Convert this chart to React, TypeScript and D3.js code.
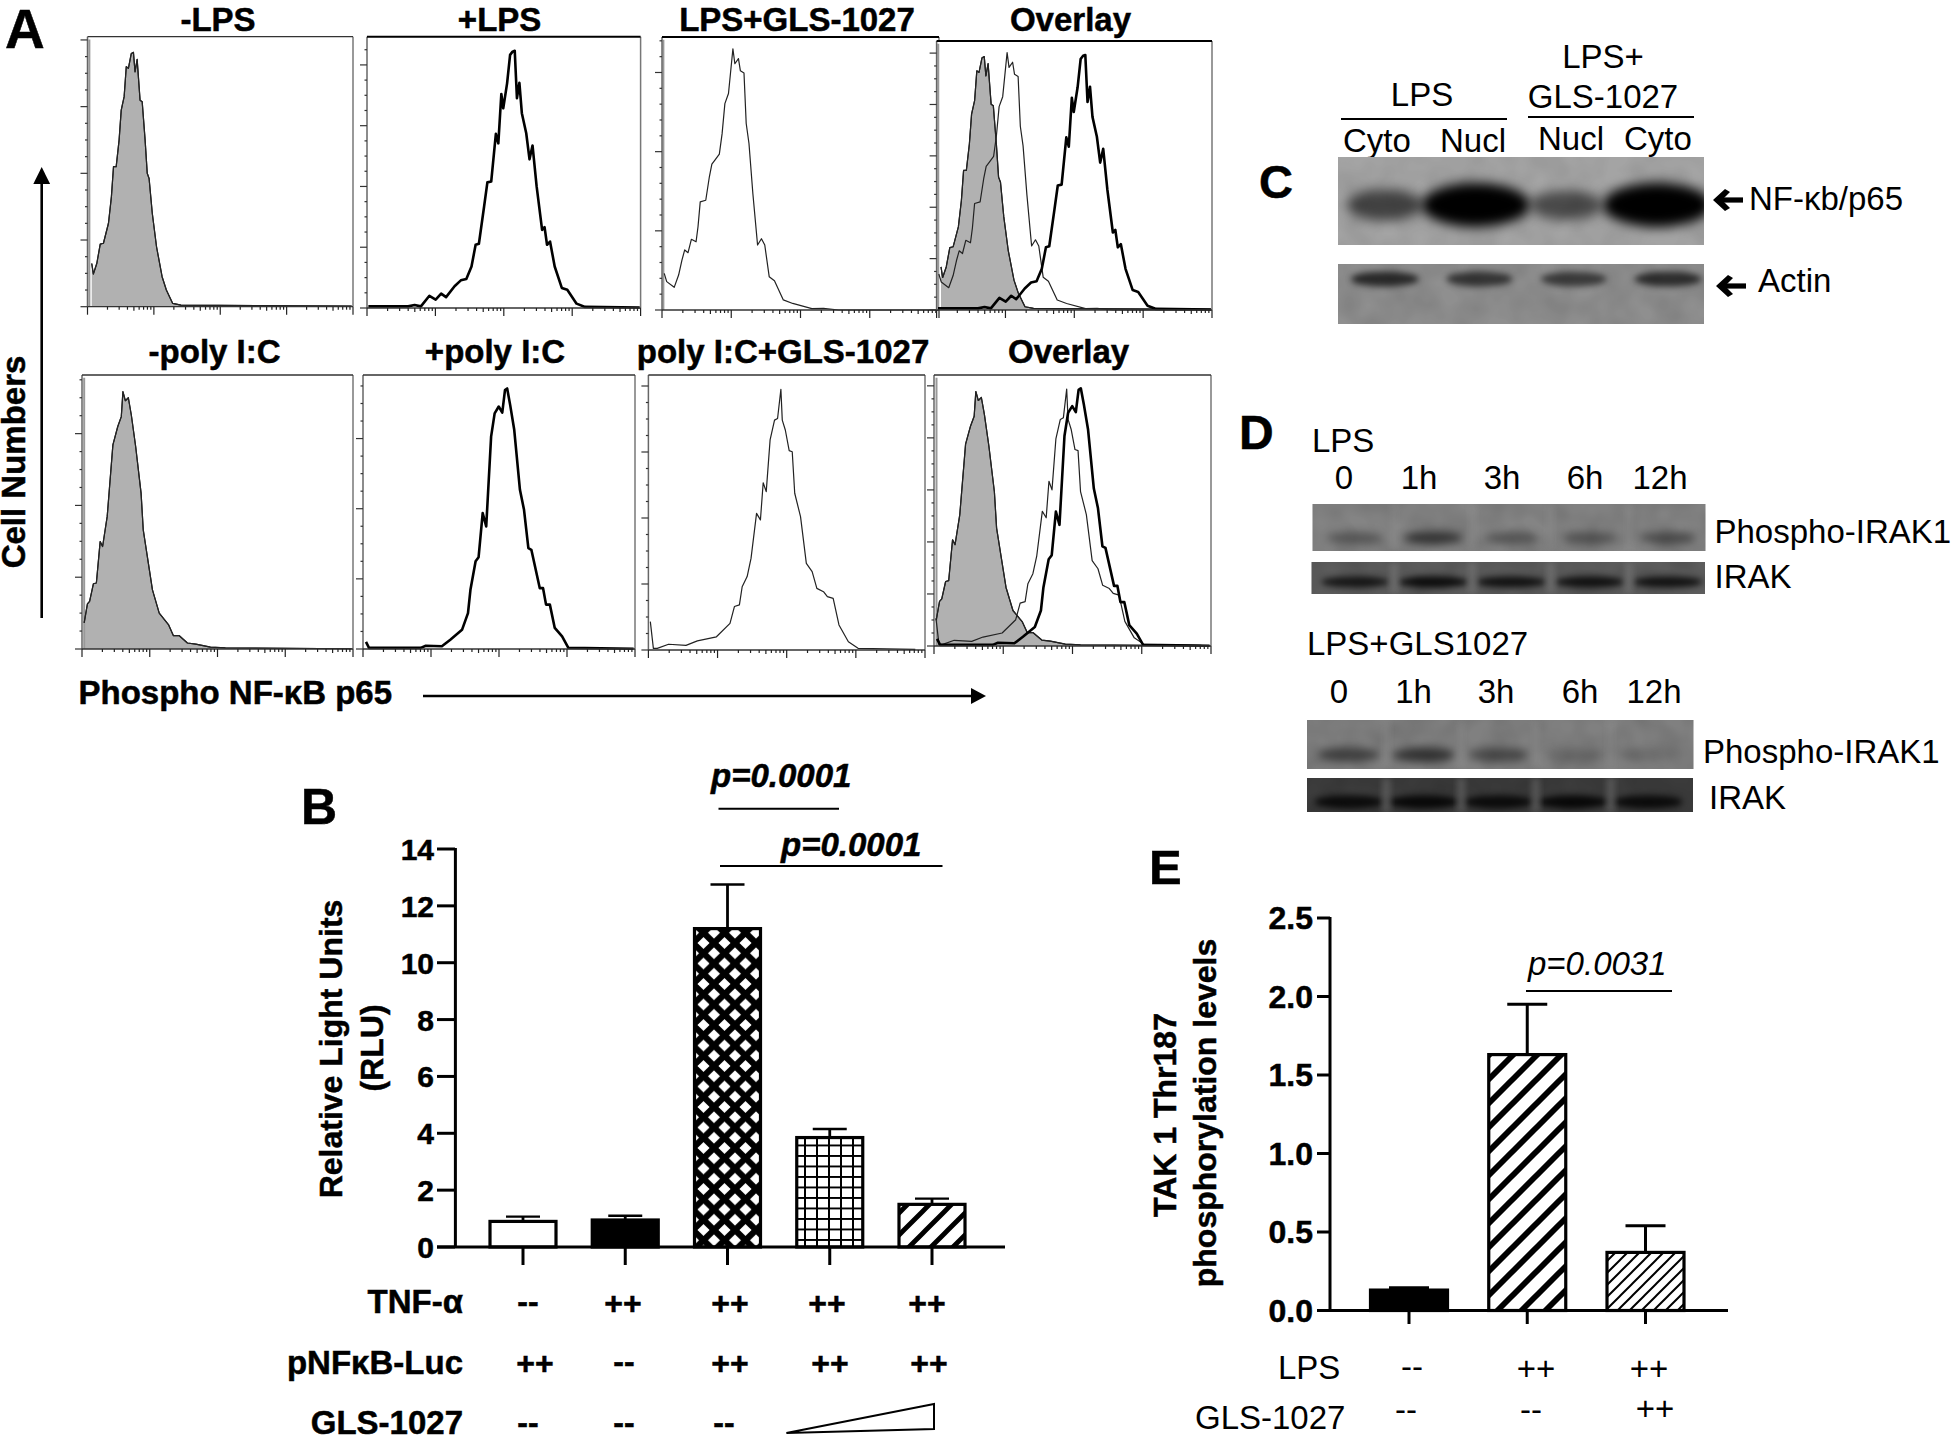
import React from "react";
import * as d3 from "d3";

type Pt = [number, number];

// ---------- flow cytometry histograms: [fluorescence % of axis, % of max count] ----------
const lpsControl: Pt[] = [[1.6,16],[2.2,12.1],[3.5,16],[4.8,23.2],[6,23.5],[7.9,30.9],[9,40.7],[9.8,51.9],[10.8,51.9],[11.9,61.7],[12.7,72.8],[13.8,77.8],[14.6,88.9],[15.4,88.3],[16.5,93.8],[17.3,94.2],[17.9,87],[18.7,91.6],[19.8,76.5],[20.6,75.9],[21.7,61.7],[22.5,49.4],[23.2,47.5],[24.4,34.6],[26,22.2],[28.1,11.1],[29.7,6.2],[32.1,1.2],[35.2,0.6],[99.5,0.2]];
const lpsStim: Pt[] = [[0.5,0.6],[15,0.6],[17.4,1.1],[19.7,0.6],[22.8,4.5],[25.1,3.1],[27.1,5.3],[28.9,4],[32,8],[34.3,10.2],[36.3,10.7],[38.2,15.3],[39.7,23.3],[40.9,23.7],[42.8,37.4],[44,46.3],[45.4,46.6],[47.1,64.2],[48,60.7],[49.1,78.9],[49.8,73.6],[51.2,82.8],[52.3,93.3],[53.2,94.5],[54,94.8],[54.8,77.3],[55.7,83],[56.6,71.8],[58.2,64.4],[59.4,54.8],[60.5,59.9],[62,44.8],[64,28.8],[64.9,29.8],[65.8,23.3],[66.9,24.5],[68.6,15.3],[71.2,7.4],[73.2,6.7],[76.6,1.6],[79.7,0.4],[99.7,0.2]];
const lpsDrug: Pt[] = [[0.8,13.4],[1.7,10.4],[4.4,8.3],[6,12.8],[7.2,18.3],[8.2,22],[9.4,21],[10.6,25.9],[12.3,25],[13,30.5],[13.8,39.6],[15.8,40.2],[17.1,48.8],[18,53.4],[19.1,54.9],[20.7,57.1],[21.7,64.6],[22.7,75.6],[24,79.3],[25.6,95.7],[26.3,90.2],[27.6,92.1],[28.3,87.6],[29.6,86.8],[30.4,68.3],[31.4,61],[32.8,42.7],[34.5,23.8],[35.9,26.1],[37.1,23.8],[38.7,12.2],[40.6,10.7],[43.8,3.7],[47.2,2.4],[54.1,0.5],[58.3,0.6],[63.8,0],[99.7,0]];
const polyControl: Pt[] = [[0.8,9.5],[2,16.5],[2.8,17.4],[4.2,23.8],[5.3,24.1],[6.7,39.2],[7.6,37.4],[9.3,48.4],[11.4,74.5],[13.2,81.2],[14.5,84.8],[15.1,93.9],[16,90.6],[17.1,91.7],[18.2,85.4],[19.8,73.9],[21.8,56.9],[22.6,43.5],[24.1,33.8],[26,21.6],[28.5,13.1],[31.9,8.9],[33.7,4.9],[35.8,4.9],[38.9,2.2],[42,1.8],[47.4,0.7],[52.9,0.4],[99.5,0.1]];
const polyStim: Pt[] = [[1.1,2.6],[2.2,0.4],[11.9,0.4],[21.2,0.4],[23.1,1.2],[29,1],[32.1,3.4],[36.4,7],[38.6,13.1],[39.5,21.6],[41.4,32],[42.5,33.5],[44,49.6],[45.3,44.7],[47.1,77.5],[48.4,86],[49.9,88.5],[51.2,86.3],[52.2,94.5],[53,95.1],[54.1,89.1],[55.6,80],[57.7,58.1],[59.2,50.8],[60.8,36.8],[61.9,36.2],[65,22.2],[66.2,22.2],[67.3,16.2],[68.7,16.2],[70.5,7.7],[73.2,4.6],[75.5,0.4],[99.5,0.1]];
const polyDrug: Pt[] = [[0.7,10.3],[1.8,0.6],[3.2,0.6],[7.3,2.1],[13.6,1.7],[17.7,3.3],[24.6,4.8],[29.5,9.7],[31.1,15.8],[32.9,16.4],[33.9,23],[35.7,26.7],[37.1,33.3],[39.1,49.7],[40.5,47.3],[41.5,60.8],[42.6,57.6],[44,76.4],[45.6,83.6],[46.7,84.2],[47.9,94.8],[48.4,83.6],[49.5,80],[50.9,72.5],[52,72.1],[52.9,57],[55,48.5],[57.1,31.5],[59.2,28.5],[60.9,22.4],[63.3,21.2],[64.7,19.4],[66.8,18.8],[68.9,9.1],[72.3,3],[75.8,0.6],[96.5,0.2]];

const histTitles = ["-LPS","+LPS","LPS+GLS-1027","Overlay","-poly I:C","+poly I:C","poly I:C+GLS-1027","Overlay"];
const logTicks = [1, 10000];

// ---------- panel B ----------
const rluCategories = ["ctrl","tnf","both","low","high"];
const rluValues = [0.9, 0.95, 11.2, 3.85, 1.5];
const rluErrorTops = [1.07, 1.1, 12.75, 4.15, 1.7];
const rluTicks = [0,2,4,6,8,10,12,14];
const rowTnf = ["--","++","++","++","++"];
const rowLuc = ["++","--","++","++","++"];
const rowGls = ["--","--","--"];

// ---------- panel E ----------
const takCategories = ["ctrl","lps","drug"];
const takValues = [0.13, 1.63, 0.37];
const takErrorTops = [0.145, 1.95, 0.54];
const takTicks = [0, 0.5, 1.0, 1.5, 2.0, 2.5];
const rowLps = ["--","++","++"];
const rowGlsE = ["--","--","++"];

// ---------- blots: relative band density per lane ----------
const p65Lanes = ["Cyto","Nucl","Nucl2","Cyto2"];
const p65Density = [0.6, 1, 0.55, 1];
const actinDensity = [0.7, 0.62, 0.58, 0.68];
const timeLabels = ["0","1h","3h","6h","12h"];
const pIrakLps = [0.35, 0.6, 0.35, 0.38, 0.42];
const irakLps = [0.75, 0.85, 0.8, 0.8, 0.8];
const pIrakGls = [0.5, 0.6, 0.42, 0.15, 0.15];
const irakGls = [0.8, 0.85, 0.8, 0.85, 0.8];

const FONT = "'Liberation Sans', Arial, sans-serif";

const T = ({ x, y, s = 33, b = false, i = false, a = "start", rot, children }: any) => (
  <text
    x={rot ? 0 : x}
    y={rot ? 0 : y}
    transform={rot ? `translate(${x},${y}) rotate(${rot})` : undefined}
    fontFamily={FONT}
    fontSize={s}
    fontWeight={b ? 700 : 400}
    fontStyle={i ? "italic" : "normal"}
    textAnchor={a}
    fill="#000"
    stroke={b ? "#000" : "none"}
    strokeWidth={b ? 0.5 : 0}
  >
    {children}
  </text>
);

type Curve = { data: Pt[]; kind: "fill" | "thick" | "thin" };

const Hist = ({ x0, x1, top, base, title, tx, ty, curves, yStep, minors, spike, darkTop }: any) => {
  const x = d3.scaleLinear().domain([0, 100]).range([x0, x1]);
  const y = d3.scaleLinear().domain([0, 100]).range([base, top]);
  const line = d3.line<Pt>().x((d) => x(d[0])).y((d) => y(d[1]));
  const area = d3.area<Pt>().x((d) => x(d[0])).y0(base).y1((d) => y(d[1]));
  const log = d3.scaleLog().domain(logTicks).range([x0, x1]);
  const logVals = log.ticks();
  const yVals = d3.range(0, Math.floor(100 / (yStep / (minors + 1))) + 1).map((k) => k * (yStep / (minors + 1)));
  return (
    <g>
      <rect x={x0} y={top} width={x1 - x0} height={base - top} fill="#fff" />
      {curves.map((c: Curve, i: number) =>
        c.kind === "fill" ? (
          <path key={i} d={area(c.data) as string} fill="#b1b1b1" stroke="none" />
        ) : null
      )}
      {spike && <line x1={x(spike)} x2={x(spike)} y1={y(99)} y2={base} stroke="#999" strokeWidth={2} />}
      {curves.map((c: Curve, i: number) => (
        <path
          key={"l" + i}
          d={line(c.data) as string}
          fill="none"
          stroke={c.kind === "thick" ? "#000" : "#222"}
          strokeWidth={c.kind === "thick" ? 2.6 : 1.2}
          strokeLinejoin="round"
        />
      ))}
      <line x1={x0} x2={x0} y1={top} y2={base} stroke="#666" strokeWidth={1.5} />
      <line x1={x1} x2={x1} y1={top} y2={base} stroke="#777" strokeWidth={1.5} />
      <line x1={x0} x2={x1} y1={top} y2={top} stroke={darkTop ? "#000" : "#333"} strokeWidth={darkTop ? 2 : 1.3} />
      <line x1={x0} x2={x1} y1={base} y2={base} stroke="#333" strokeWidth={1.3} />
      {logVals.map((v: number) => {
        const lg = Math.log10(v);
        const major = Math.abs(lg - Math.round(lg)) < 1e-6;
        const fifth = String(v)[0] === "5";
        return <line key={v} x1={log(v)} x2={log(v)} y1={base} y2={base + (major ? 8 : fifth ? 4 : 3)} stroke="#222" strokeWidth={1.2} />;
      })}
      {yVals.map((v: number, k: number) => {
        const major = k % (minors + 1) === 0;
        return <line key={k} x1={x0 - (major ? 7 : 2.5)} x2={x0} y1={y(v)} y2={y(v)} stroke="#333" strokeWidth={1.2} />;
      })}
      <T x={tx} y={ty} s={33} b a="middle">{title}</T>
    </g>
  );
};

const Blot = ({ id, x0, x1, top, bottom, bg, lanes, density, laneFrom, laneTo, bandY, halfW, halfH, blur, gaps, rMin = 0.8, mottle = 0.12 }: any) => {
  const lane = d3.scalePoint<string>().domain(lanes).range([laneFrom, laneTo]);
  const shape = d3.scaleLinear().domain([0, 1]).range([rMin, 1]);
  const gapScale = lane.step();
  return (
    <g>
      <clipPath id={id}><rect x={x0} y={top} width={x1 - x0} height={bottom - top} /></clipPath>
      <rect x={x0} y={top} width={x1 - x0} height={bottom - top} fill={bg} />
      <g clipPath={`url(#${id})`}>
        <rect x={x0} y={top} width={x1 - x0} height={bottom - top} fill="#000" filter="url(#mottle)" opacity={mottle} />
        {lanes.map((l: string, i: number) => (
          <ellipse key={l} cx={lane(l)} cy={bandY} rx={halfW * shape(density[i])} ry={halfH * shape(density[i])} fill="#000" opacity={density[i]} filter={`url(#${blur})`} />
        ))}
        {gaps && lanes.slice(1).map((l: string) => (
          <rect key={l} x={(lane(l) as number) - gapScale / 2 - 4} y={top} width={8} height={bottom - top} fill="#8f8f8f" opacity={0.35} filter="url(#blur3)" />
        ))}
      </g>
    </g>
  );
};

const LeftArrow = ({ x, y }: any) => (
  <g fill="#000">
    <rect x={x + 8} y={y - 2.6} width={22} height={5.2} />
    <path d={`M${x} ${y} L${x + 12} ${y - 11} L${x + 17} ${y - 8} L${x + 9} ${y} L${x + 17} ${y + 8} L${x + 12} ${y + 11} Z`} />
  </g>
);

const diag = (p: number) => `M0 ${p} L${p} 0 M${-p / 2} ${p / 2} L${p / 2} ${-p / 2} M${p / 2} ${(3 * p) / 2} L${(3 * p) / 2} ${p / 2}`;

export default function App() {
  // panel B scales
  const yB = d3.scaleLinear().domain([0, 14]).range([1247, 849]);
  const xB = d3.scalePoint<string>().domain(rluCategories).range([523, 932]);
  const fillsB = ["#fff", "#000", "url(#cross)", "url(#grid)", "url(#stripeB)"];
  const wB = 66;
  // panel E scales
  const yE = d3.scaleLinear().domain([0, 2.5]).range([1310.5, 918]);
  const xE = d3.scalePoint<string>().domain(takCategories).range([1409, 1645.5]);
  const fillsE = ["#000", "url(#stripeE)", "url(#stripeF)"];
  const wE = 77;

  const F = (d: Pt[]): Curve => ({ data: d, kind: "fill" });
  const K = (d: Pt[]): Curve => ({ data: d, kind: "thick" });
  const N = (d: Pt[]): Curve => ({ data: d, kind: "thin" });

  const rowsB: [string[], number[], number][] = [
    [rowTnf, [528, 623, 730, 827, 927], 1303],
    [rowLuc, [535, 624, 730, 830, 929], 1363],
    [rowGls, [528, 624, 724], 1424],
  ];

  return (
    <svg width={1951} height={1436} style={{ position: "absolute", left: 0, top: 0, display: "block", background: "#fff" }}>
      <defs>
        <pattern id="cross" patternUnits="userSpaceOnUse" width={21} height={20.5}>
          <rect width={21} height={20.5} fill="#fff" />
          <path d="M0 0L21 20.5M21 0L0 20.5" stroke="#000" strokeWidth={6.2} />
        </pattern>
        <pattern id="grid" patternUnits="userSpaceOnUse" width={12} height={10.5}>
          <rect width={12} height={10.5} fill="#fff" />
          <path d="M1 0V10.5M0 1H12" stroke="#000" strokeWidth={2} />
        </pattern>
        <pattern id="stripeB" patternUnits="userSpaceOnUse" width={22} height={22}>
          <rect width={22} height={22} fill="#fff" />
          <path d={diag(22)} stroke="#000" strokeWidth={4.8} />
        </pattern>
        <pattern id="stripeE" patternUnits="userSpaceOnUse" width={24} height={24}>
          <rect width={24} height={24} fill="#fff" />
          <path d={diag(24)} stroke="#000" strokeWidth={5.8} />
        </pattern>
        <pattern id="stripeF" patternUnits="userSpaceOnUse" width={12} height={12}>
          <rect width={12} height={12} fill="#fff" />
          <path d={diag(12)} stroke="#000" strokeWidth={2} />
        </pattern>
        <filter id="blur3" x="-50%" y="-100%" width="200%" height="300%"><feGaussianBlur stdDeviation={3} /></filter>
        <filter id="blur4" x="-50%" y="-150%" width="200%" height="400%"><feGaussianBlur stdDeviation={4} /></filter>
        <filter id="blur6" x="-50%" y="-80%" width="200%" height="260%"><feGaussianBlur stdDeviation={6} /></filter>
        <filter id="mottle" x="0" y="0" width="100%" height="100%">
          <feTurbulence type="fractalNoise" baseFrequency="0.035" numOctaves={2} seed={7} />
          <feColorMatrix values="0 0 0 0 0  0 0 0 0 0  0 0 0 0 0  1.6 0 0 0 -0.45" />
        </filter>
      </defs>

      {/* Panel A */}
      <T x={5} y={48} s={55} b>A</T>
      <Hist x0={87.5} x1={353} top={36.7} base={306.7} title={histTitles[0]} tx={218} ty={31} curves={[F(lpsControl), N(lpsControl)]} yStep={24.7} minors={3} spike={0.7} darkTop={false} />
      <Hist x0={367} x1={640.6} top={36.7} base={308} title={histTitles[1]} tx={499.6} ty={31} curves={[K(lpsStim)]} yStep={22.4} minors={3} darkTop />
      <Hist x0={662} x1={939} top={37} base={310} title={histTitles[2]} tx={797} ty={31} curves={[N(lpsDrug)]} yStep={29} minors={4} spike={0.5} darkTop />
      <Hist x0={936.6} x1={1212} top={41} base={310} title={histTitles[3]} tx={1070.5} ty={31} curves={[F(lpsControl), N(lpsControl), N(lpsDrug), K(lpsStim)]} yStep={19.1} minors={3} spike={0.6} darkTop />
      <Hist x0={82} x1={353} top={375} base={649} title={histTitles[4]} tx={214.6} ty={363} curves={[F(polyControl), N(polyControl)]} yStep={26.2} minors={3} spike={0.8} />
      <Hist x0={363} x1={635} top={375} base={649} title={histTitles[5]} tx={495} ty={363} curves={[K(polyStim)]} yStep={25.6} minors={3} />
      <Hist x0={648.4} x1={925} top={375} base={650} title={histTitles[6]} tx={783} ty={363} curves={[N(polyDrug)]} yStep={24} minors={3} />
      <Hist x0={934} x1={1211} top={375} base={646} title={histTitles[7]} tx={1068.6} ty={363} curves={[F(polyControl), N(polyControl), N(polyDrug), K(polyStim)]} yStep={19.2} minors={3} spike={0.9} />

      <T x={25} y={462} s={33} b a="middle" rot={-90}>Cell Numbers</T>
      <line x1={41.7} x2={41.7} y1={180} y2={618} stroke="#000" strokeWidth={2.6} />
      <path d="M41.7 167L33.3 184H50.1Z" fill="#000" />
      <T x={78.5} y={704} s={33} b>Phospho NF-κB p65</T>
      <line x1={423} x2={975} y1={696} y2={696} stroke="#000" strokeWidth={2.6} />
      <path d="M986 696L971 688V704Z" fill="#000" />

      {/* Panel B */}
      <T x={301} y={824} s={50} b>B</T>
      <T x={711} y={787} s={33} b i>p=0.0001</T>
      <line x1={718.5} x2={839} y1={808.7} y2={808.7} stroke="#000" strokeWidth={2} />
      <T x={781} y={856} s={33} b i>p=0.0001</T>
      <line x1={720} x2={942.5} y1={866} y2={866} stroke="#000" strokeWidth={2} />
      {rluCategories.map((c, i) => {
        const cx = xB(c) as number;
        return (
          <g key={c}>
            <line x1={cx} x2={cx} y1={yB(rluValues[i])} y2={yB(rluErrorTops[i])} stroke="#000" strokeWidth={2.8} />
            <line x1={cx - 17} x2={cx + 17} y1={yB(rluErrorTops[i])} y2={yB(rluErrorTops[i])} stroke="#000" strokeWidth={2.4} />
            <rect x={cx - wB / 2} y={yB(rluValues[i])} width={wB} height={yB(0) - yB(rluValues[i])} fill={fillsB[i]} stroke="#000" strokeWidth={3.2} />
            <line x1={cx} x2={cx} y1={yB(0)} y2={1265} stroke="#000" strokeWidth={3} />
          </g>
        );
      })}
      <line x1={455.4} x2={455.4} y1={yB(14) - 1} y2={yB(0)} stroke="#000" strokeWidth={3} />
      <line x1={437} x2={1005} y1={yB(0)} y2={yB(0)} stroke="#000" strokeWidth={3} />
      {rluTicks.map((t) => (
        <g key={t}>
          <line x1={437} x2={455} y1={yB(t)} y2={yB(t)} stroke="#000" strokeWidth={3} />
          <T x={434} y={yB(t) + 11} s={30} b a="end">{t}</T>
        </g>
      ))}
      <T x={342} y={1049} s={32} b a="middle" rot={-90}>Relative Light Units</T>
      <T x={383} y={1048} s={32} b a="middle" rot={-90}>(RLU)</T>
      <T x={463} y={1313} s={33} b a="end">TNF-α</T>
      <T x={463} y={1374} s={33} b a="end">pNFκB-Luc</T>
      <T x={463} y={1434} s={33} b a="end">GLS-1027</T>
      {rowsB.map(([labels, xs, cy], r) =>
        labels.map((l, i) => (
          <T key={`${r}-${i}`} x={xs[i]} y={cy + (l === "++" ? 10.5 : 8.5)} s={32} b a="middle">{l}</T>
        ))
      )}
      <path d="M786.4 1433L934 1404V1429Z" fill="#fff" stroke="#000" strokeWidth={2} />

      {/* Panel C */}
      <T x={1259} y={198} s={47} b>C</T>
      <T x={1422} y={106} a="middle">LPS</T>
      <T x={1603} y={68} a="middle">LPS+</T>
      <T x={1603} y={108} a="middle">GLS-1027</T>
      <line x1={1341} x2={1507} y1={119} y2={119} stroke="#000" strokeWidth={2} />
      <line x1={1528} x2={1694} y1={117} y2={117} stroke="#000" strokeWidth={2} />
      <T x={1343} y={152}>Cyto</T>
      <T x={1440} y={152}>Nucl</T>
      <T x={1538} y={150}>Nucl</T>
      <T x={1624} y={150}>Cyto</T>
      <Blot id="c1" x0={1338} x1={1704} top={157} bottom={245} bg="#a4a4a4" lanes={p65Lanes} density={p65Density} laneFrom={1385} laneTo={1657} bandY={205} halfW={54} halfH={22} blur="blur6" rMin={0.25} mottle={0.08} />
      <Blot id="c2" x0={1338} x1={1704} top={264} bottom={324} bg="#8f8f8f" lanes={p65Lanes} density={actinDensity} laneFrom={1385} laneTo={1668} bandY={279} halfW={36} halfH={8} blur="blur3" mottle={0.1} />
      <LeftArrow x={1713} y={200} />
      <T x={1749} y={210}>NF-κb/p65</T>
      <LeftArrow x={1716} y={286} />
      <T x={1758} y={292}>Actin</T>

      {/* Panel D */}
      <T x={1239} y={449} s={48} b>D</T>
      <T x={1312} y={452}>LPS</T>
      {timeLabels.map((t, i) => (
        <T key={t} x={[1344, 1419, 1502, 1585, 1660][i]} y={489} a="middle">{t}</T>
      ))}
      <Blot id="d1" x0={1312.5} x1={1705.5} top={504} bottom={551} bg="#848484" lanes={timeLabels} density={pIrakLps} laneFrom={1355} laneTo={1668} bandY={538} halfW={32} halfH={7} blur="blur4" gaps />
      <Blot id="d2" x0={1311.5} x1={1705} top={562} bottom={594} bg="#5c5c5c" lanes={timeLabels} density={irakLps} laneFrom={1355} laneTo={1668} bandY={582} halfW={36} halfH={6} blur="blur3" gaps />
      <T x={1714.5} y={543}>Phospho-IRAK1</T>
      <T x={1714.5} y={588}>IRAK</T>
      <T x={1307} y={655}>LPS+GLS1027</T>
      {timeLabels.map((t, i) => (
        <T key={t} x={[1339, 1413.5, 1496, 1580, 1654][i]} y={703} a="middle">{t}</T>
      ))}
      <Blot id="d3" x0={1307} x1={1693.5} top={720} bottom={769} bg="#808080" lanes={timeLabels} density={pIrakGls} laneFrom={1349} laneTo={1648} bandY={755} halfW={34} halfH={8} blur="blur4" gaps />
      <Blot id="d4" x0={1307} x1={1693} top={778} bottom={812} bg="#3c3c3c" lanes={timeLabels} density={irakGls} laneFrom={1349} laneTo={1648} bandY={802} halfW={36} halfH={7} blur="blur3" gaps />
      <T x={1703} y={763}>Phospho-IRAK1</T>
      <T x={1709} y={809}>IRAK</T>

      {/* Panel E */}
      <T x={1149} y={884} s={49} b>E</T>
      <T x={1528} y={975} i>p=0.0031</T>
      <line x1={1526} x2={1672} y1={991} y2={991} stroke="#000" strokeWidth={2} />
      {takCategories.map((c, i) => {
        const cx = xE(c) as number;
        return (
          <g key={c}>
            <line x1={cx} x2={cx} y1={yE(takValues[i])} y2={yE(takErrorTops[i])} stroke="#000" strokeWidth={3} />
            <line x1={cx - 20} x2={cx + 20} y1={yE(takErrorTops[i])} y2={yE(takErrorTops[i])} stroke="#000" strokeWidth={3} />
            <rect x={cx - wE / 2} y={yE(takValues[i])} width={wE} height={yE(0) - yE(takValues[i])} fill={fillsE[i]} stroke="#000" strokeWidth={3.2} />
            <line x1={cx} x2={cx} y1={yE(0)} y2={1324} stroke="#000" strokeWidth={3} />
          </g>
        );
      })}
      <line x1={1330} x2={1330} y1={yE(2.5) - 1} y2={yE(0)} stroke="#000" strokeWidth={3} />
      <line x1={1317} x2={1728} y1={yE(0)} y2={yE(0)} stroke="#000" strokeWidth={3} />
      {takTicks.map((t) => (
        <g key={t}>
          <line x1={1317} x2={1330} y1={yE(t)} y2={yE(t)} stroke="#000" strokeWidth={3} />
          <T x={1313} y={yE(t) + 11} s={32} b a="end">{t.toFixed(1)}</T>
        </g>
      ))}
      <T x={1176} y={1115} s={32} b a="middle" rot={-90}>TAK 1 Thr187</T>
      <T x={1216} y={1113} s={32} b a="middle" rot={-90}>phosphorylation levels</T>
      <T x={1278} y={1379}>LPS</T>
      <T x={1195} y={1429}>GLS-1027</T>
      {rowLps.map((l, i) => (
        <T key={i} x={[1412, 1536, 1649][i]} y={1369 + (l === "++" ? 11 : 8.5)} a="middle">{l}</T>
      ))}
      {rowGlsE.map((l, i) => (
        <T key={i} x={[1406, 1531, 1655][i]} y={l === "++" ? 1420 : 1420.5} a="middle">{l}</T>
      ))}
    </svg>
  );
}
